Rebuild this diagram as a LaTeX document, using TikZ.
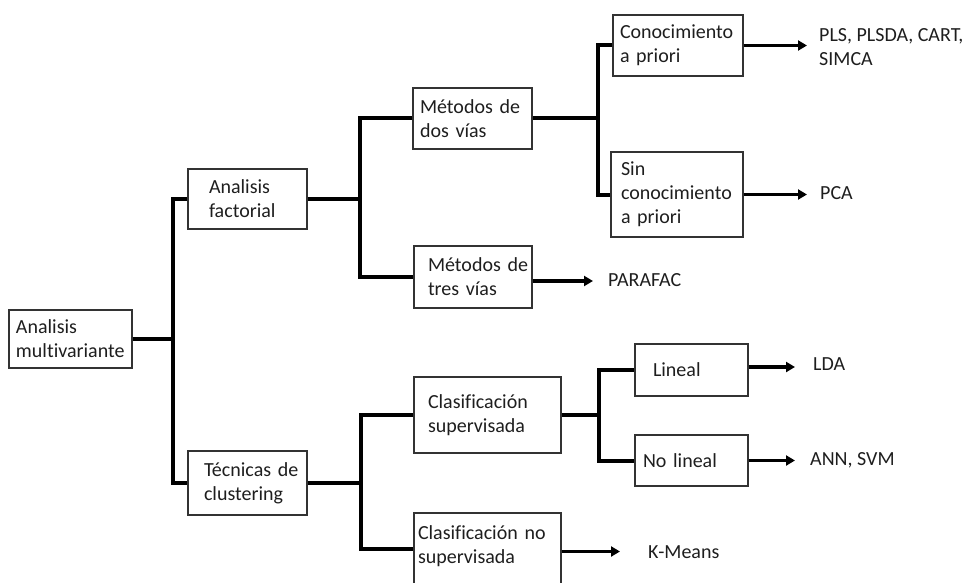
\documentclass[tikz,border=0pt]{standalone}
\usepackage{fontspec}
\setmainfont{Carlito}[Ligatures={NoCommon}]
\usetikzlibrary{arrows.meta}
\definecolor{boxc}{HTML}{333333}
\definecolor{txtc}{HTML}{1E1E1E}
\tikzset{
  box/.style={draw=boxc, line width=1.1pt, align=left, inner ysep=0pt, text=txtc,
    font=\fontsize{20}{24}\selectfont},
  res/.style={anchor=west, inner sep=0pt, align=left, text=txtc,
    font=\fontsize{20}{24}\selectfont},
  tree/.style={line width=4pt, line join=miter, line cap=butt},
  arr/.style={line width=3.5pt, -{Triangle[length=9pt,width=10pt]}},
}
\begin{document}
\begin{tikzpicture}[x=1pt,y=-1pt]
\useasboundingbox (0,0) rectangle (974,583);
\clip (0,0) rectangle (974,583);
% boxes
\node[box, minimum width=123pt, minimum height=58pt, inner xsep=7pt, text width=109pt] (am) at (70.5,339) {Analisis\\multivariante};
\node[box, minimum width=119pt, minimum height=60pt, inner xsep=21pt, text width=77pt] (af) at (247.5,199) {Analisis\\factorial};
\node[box, minimum width=119pt, minimum height=64pt, inner xsep=16pt, text width=87pt] (tc) at (247.5,483) {Técnicas~de\\clustering};
\node[box, minimum width=119pt, minimum height=61pt, inner xsep=7pt, text width=105pt] (m2) at (472.5,118.5) {Métodos~de\\dos~vías};
\node[box, minimum width=118pt, minimum height=62pt, inner xsep=14pt, text width=90pt] (m3) at (473,277) {Métodos~de\\tres~vías};
\node[box, minimum width=130pt, minimum height=61pt, inner xsep=7pt, text width=116pt] (ca) at (678,45.5) {Conocimiento\\a~priori};
\node[box, minimum width=132pt, minimum height=85pt, inner xsep=10pt, text width=112pt] (sc) at (677,194.5) {Sin\\conocimiento\\a~priori};
\node[box, minimum width=147pt, minimum height=76pt, inner xsep=14pt, text width=119pt] (cs) at (487.5,415) {Clasificación\\supervisada};
\node[box, minimum width=147pt, minimum height=77pt, inner xsep=4pt, text width=139pt, text depth=37pt] (cn) at (487.5,551.5) {Clasificación~no\\supervisada};
\node[box, minimum width=113pt, minimum height=52pt, inner xsep=18pt, text width=77pt] (li) at (691.5,370) {Lineal};
\node[box, minimum width=113pt, minimum height=51pt, inner xsep=8pt, text width=97pt] (nl) at (691.5,460.5) {No~lineal};
% results
\node[res] (r1) at (819,47) {PLS, PLSDA, CART,\\SIMCA};
\node[res] (r2) at (820,193) {PCA};
\node[res] (r3) at (608,280) {PARAFAC};
\node[res] (r4) at (813,364) {LDA};
\node[res] (r5) at (810,460) {ANN, SVM};
\node[res] (r6) at (648,552) {K-Means};
% tree connectors
\draw[tree] (am.east) -- ++(40,0) coordinate (j1);
\draw[tree] (af.west) -| (j1) |- (tc.west);
\draw[tree] (af.east) -- ++(52,0) coordinate (j2);
\draw[tree] (m2.west) -| (j2) |- (m3.west);
\draw[tree] (m2.east) -- ++(65,0) coordinate (j3);
\draw[tree] (ca.west) -| (j3) |- (sc.west);
\draw[tree] (tc.east) -- ++(53,0) coordinate (j4);
\draw[tree] (cs.west) -| (j4) |- ([yshift=3pt]cn.west);
\draw[tree] (cs.east) -- ++(37,0) coordinate (j5);
\draw[tree] (li.west) -| (j5) |- (nl.west);
% arrows
\draw[arr, shorten >=12pt] (ca.east) -- (ca.east -| r1.west);
\draw[arr, shorten >=13pt] (sc.east) -- (sc.east -| r2.west);
\draw[arr, shorten >=15pt] ([yshift=-4pt]m3.east) -- ([yshift=-4pt]m3.east -| r3.west);
\draw[arr, shorten >=18pt] ([yshift=3pt]li.east) -- ([yshift=3pt]li.east -| r4.west);
\draw[arr, shorten >=15pt] (nl.east) -- (nl.east -| r5.west);
\draw[arr, shorten >=28pt] (cn.east) -- (cn.east -| r6.west);
\end{tikzpicture}
\end{document}
